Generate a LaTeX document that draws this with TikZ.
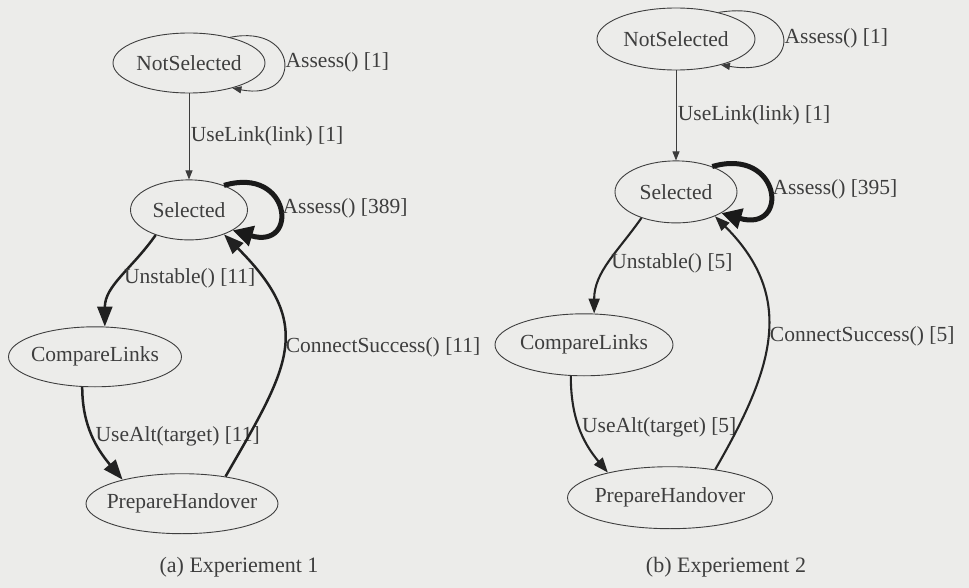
\documentclass[tikz,border=0pt]{standalone}
\usepackage{fontspec}
\setmainfont{Liberation Serif}
\usetikzlibrary{positioning,shapes.geometric,arrows.meta}

\definecolor{paper}{RGB}{236,236,234}
\definecolor{ink}{RGB}{62,62,62}
\definecolor{wire}{RGB}{60,60,60}
\definecolor{heavy}{RGB}{26,26,26}

\begin{document}
\begin{tikzpicture}[
			statenode/.style={ellipse, draw=ink, line width=0.9pt, inner xsep=-8pt, inner ysep=0pt, minimum height=60pt, text=ink, font=\fontsize{21.5}{24}\selectfont},
			labelnode/.style={text=ink, inner sep=1.5pt, font=\fontsize{21.5}{24}\selectfont},
			capnode/.style={text=ink, font=\fontsize{22}{26}\selectfont},
			thinedge/.style={draw=wire, line width=0.9pt, -{Triangle[length=9pt,width=7pt]}},
			midedge/.style={draw=heavy!70!wire, line width=2.1pt, -{Triangle[length=15pt,width=11pt]}},
			wideedge/.style={draw=heavy!80!wire, line width=2.5pt, -{Triangle[length=20pt,width=15pt]}},
			heavyedge/.style={draw=heavy, line width=5pt, -{Triangle[length=20pt,width=20pt]}},
			]
			\fill[paper] (0,0) rectangle (969pt,-588pt);
			\useasboundingbox (0,0) rectangle (969pt,-588pt);

			%Experiment 1
			\begin{scope}[node distance=86pt]
			\node[statenode, minimum width=152pt] (ns1)   at (189pt,-63pt)            {NotSelected};
			\node[statenode, minimum width=117pt] (sel1)  [below=of ns1]               {Selected};
			\node[statenode, minimum width=173pt] (cmp1)  [below=of sel1, xshift=-94pt] {CompareLinks};
			\node[statenode, minimum width=192pt] (prep1) [below=of cmp1, xshift=87pt]  {PrepareHandover};
			\end{scope}

			\draw[thinedge] (ns1.32) .. controls +(70pt,14pt) and +(70pt,-14pt) .. node[labelnode, right] {Assess() [1]} (ns1.-30);
			\draw[thinedge] (ns1) -- node[labelnode, right] {UseLink(link) [1]} (sel1);
			\draw[heavyedge] (sel1.35) .. controls +(67pt,20pt) and +(67pt,-20pt) .. node[labelnode, right] {Assess() [389]} (sel1.-25);
			\draw[wideedge] (sel1.-143) to[out=-125, in=90] node[labelnode, right] {Unstable() [11]} (cmp1.72);
			\draw[wideedge] (cmp1.247) to[out=-90, in=130] node[labelnode, right] {UseAlt(target) [11]} (prep1.158);
			\draw[wideedge] (prep1.32) to[out=60, in=-45, looseness=1.36] node[labelnode, right] {ConnectSuccess() [11]} (sel1.-35);

			%Experiment 2
			\begin{scope}[node distance=90pt, statenode/.append style={minimum height=62pt}]
			\node[statenode, minimum width=158pt] (ns2)   at (676pt,-39pt)            {NotSelected};
			\node[statenode, minimum width=122pt] (sel2)  [below=of ns2]               {Selected};
			\node[statenode, minimum width=178pt] (cmp2)  [below=of sel2, xshift=-92pt] {CompareLinks};
			\node[statenode, minimum width=205pt] (prep2) [below=of cmp2, xshift=86pt]  {PrepareHandover};
			\end{scope}

			\draw[thinedge] (ns2.32) .. controls +(84pt,14pt) and +(84pt,-14pt) .. node[labelnode, right] {Assess() [1]} (ns2.-30);
			\draw[thinedge] (ns2) -- node[labelnode, right] {UseLink(link) [1]} (sel2);
			\draw[heavyedge] (sel2.35) .. controls +(69pt,20pt) and +(69pt,-20pt) .. node[labelnode, right] {Assess() [395]} (sel2.-25);
			\draw[midedge] (sel2.-143) to[out=-125, in=90] node[labelnode, right] {Unstable() [5]} (cmp2.72);
			\draw[midedge] (cmp2.247) to[out=-90, in=130] node[labelnode, right] {UseAlt(target) [5]} (prep2.158);
			\draw[midedge] (prep2.32) to[out=60, in=-45, looseness=1.17] node[labelnode, right] {ConnectSuccess() [5]} (sel2.-32);

			%Captions
			\node[capnode] (capa) at (239pt,-567pt) {(a) Experiement 1};
			\node[capnode] (capb) at (726pt,-567pt) {(b) Experiement 2};
		\end{tikzpicture}
\end{document}
